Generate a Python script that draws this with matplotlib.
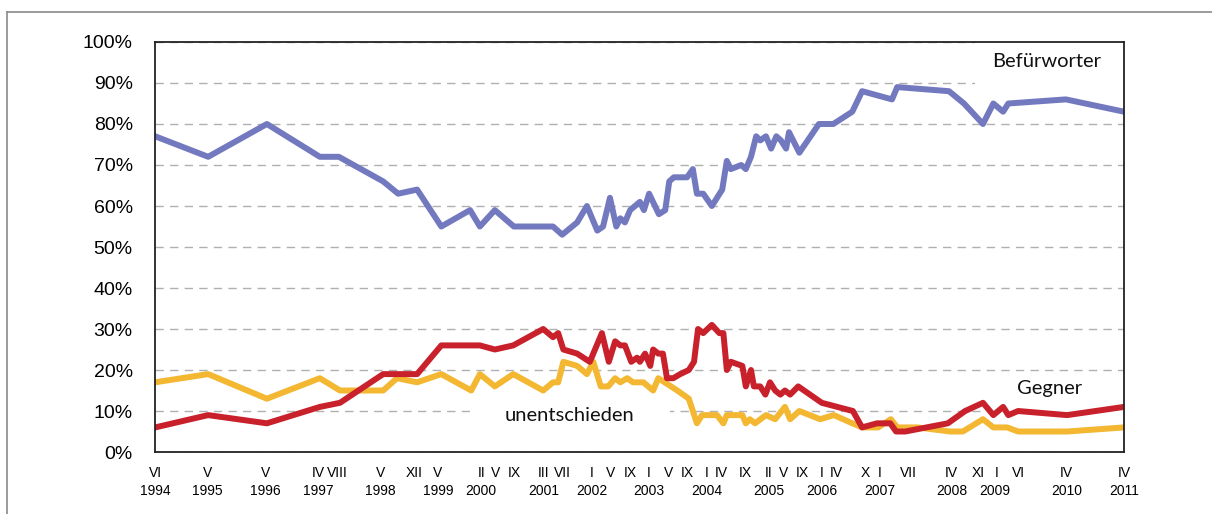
import numpy as np
import matplotlib
matplotlib.use("Agg")
import matplotlib.pyplot as plt
from matplotlib.patches import Rectangle
from matplotlib.lines import Line2D
from matplotlib.transforms import blended_transform_factory, ScaledTranslation

plt.rcParams['font.family'] = ['Liberation Sans', 'DejaVu Sans']

# survey dates as decimal years, values in percent
befuerworter_dates = [1994.42, 1995.34, 1996.36, 1997.28, 1997.61, 1998.38, 1998.64, 1998.97,
                      1999.39, 1999.89, 2000.06, 2000.32, 2000.65, 2001.33, 2001.49, 2001.75,
                      2001.92, 2002.10, 2002.20, 2002.32, 2002.43, 2002.50, 2002.58, 2002.67,
                      2002.84, 2002.91, 2003.00, 2003.17, 2003.28, 2003.35, 2003.43, 2003.66,
                      2003.76, 2003.83, 2003.94, 2004.09, 2004.27, 2004.35, 2004.42, 2004.60,
                      2004.68, 2004.77, 2004.86, 2004.93, 2005.03, 2005.12, 2005.21, 2005.29,
                      2005.38, 2005.43, 2005.61, 2005.95, 2006.20, 2006.53, 2006.70, 2007.22,
                      2007.31, 2008.21, 2008.47, 2008.80, 2008.98, 2009.15, 2009.24, 2010.24,
                      2011.25]
befuerworter = [77, 72, 80, 72, 72, 66, 63, 64,
                55, 59, 55, 59, 55, 55, 53, 56,
                60, 54, 55, 62, 55, 57, 56, 59,
                61, 59, 63, 58, 59, 66, 67, 67,
                69, 63, 63, 60, 64, 71, 69, 70,
                69, 72, 77, 76, 77, 74, 77, 76,
                74, 78, 73, 80, 80, 83, 88, 86,
                89, 88, 85, 80, 85, 83, 85, 86,
                83]

gegner_dates = [1994.42, 1995.34, 1996.36, 1997.28, 1997.63, 1998.38, 1998.97, 1999.39,
                2000.06, 2000.32, 2000.64, 2001.16, 2001.33, 2001.42, 2001.51, 2001.75,
                2001.97, 2002.18, 2002.30, 2002.41, 2002.50, 2002.58, 2002.69, 2002.79,
                2002.84, 2002.93, 2003.02, 2003.07, 2003.16, 2003.24, 2003.31, 2003.42,
                2003.54, 2003.69, 2003.78, 2003.85, 2003.94, 2004.09, 2004.22, 2004.29,
                2004.35, 2004.42, 2004.62, 2004.68, 2004.77, 2004.82, 2004.93, 2005.02,
                2005.10, 2005.19, 2005.28, 2005.36, 2005.45, 2005.59, 2006.00, 2006.27,
                2006.54, 2006.70, 2006.96, 2007.19, 2007.29, 2007.45, 2008.19, 2008.49,
                2008.80, 2008.98, 2009.15, 2009.24, 2009.41, 2010.26, 2011.25]
gegner = [6, 9, 7, 11, 12, 19, 19, 26,
          26, 25, 26, 30, 28, 29, 25, 24,
          22, 29, 22, 27, 26, 26, 22, 23,
          22, 24, 21, 25, 24, 24, 18, 18,
          19, 20, 22, 30, 29, 31, 29, 29,
          20, 22, 21, 16, 20, 16, 16, 14,
          17, 15, 14, 15, 14, 16, 12, 11,
          10, 6, 7, 7, 5, 5, 7, 10,
          12, 9, 11, 9, 10, 9, 11]

unentschieden_dates = [1994.42, 1995.34, 1996.36, 1997.28, 1997.63, 1998.38, 1998.62, 1998.97,
                       1999.39, 1999.91, 2000.06, 2000.32, 2000.64, 2001.16, 2001.33, 2001.42,
                       2001.51, 2001.75, 2001.92, 2002.03, 2002.16, 2002.29, 2002.41, 2002.50,
                       2002.62, 2002.72, 2002.90, 2003.07, 2003.16, 2003.49, 2003.69, 2003.83,
                       2003.92, 2004.18, 2004.29, 2004.35, 2004.62, 2004.68, 2004.75, 2004.84,
                       2005.03, 2005.19, 2005.36, 2005.45, 2005.61, 2005.97, 2006.21, 2006.53,
                       2006.70, 2006.98, 2007.20, 2007.31, 2007.66, 2008.23, 2008.45, 2008.80,
                       2008.98, 2009.22, 2009.41, 2010.26, 2011.25]
unentschieden = [17, 19, 13, 18, 15, 15, 18, 17,
                 19, 15, 19, 16, 19, 15, 17, 17,
                 22, 21, 19, 22, 16, 16, 18, 17,
                 18, 17, 17, 15, 18, 15, 13, 7,
                 9, 9, 7, 9, 9, 7, 8, 7,
                 9, 8, 11, 8, 10, 8, 9, 7,
                 6, 6, 8, 6, 6, 5, 5, 8,
                 6, 6, 5, 5, 6]

# x axis labels: survey month (roman) and year
tick_years = [1994, 1995, 1996, 1997, 1997, 1998, 1998, 1999, 2000, 2000, 2000, 2001, 2001,
              2002, 2002, 2002, 2003, 2003, 2003, 2004, 2004, 2004, 2005, 2005, 2005,
              2006, 2006, 2006, 2007, 2007, 2008, 2008, 2009, 2009, 2010, 2011]
tick_months = [6, 5, 5, 4, 8, 5, 12, 5, 2, 5, 9, 3, 7,
               1, 5, 9, 1, 5, 9, 1, 4, 9, 2, 5, 9,
               1, 4, 10, 1, 7, 4, 11, 1, 6, 4, 4]
ROMAN = ["I", "II", "III", "IV", "V", "VI", "VII", "VIII", "IX", "X", "XI", "XII"]

# small horizontal nudges (points) for crowded month labels, like in the original
label_nudge = {(2008, 11): -4.5, (2009, 1): 1.5}

BLUE = "#7379BE"
RED = "#C9212B"
YELLOW = "#F3B731"


def DrawDateLabels(fig, ax):
    trans = blended_transform_factory(ax.transData, ax.transAxes)
    lastYear = None
    for y, m in zip(tick_years, tick_months):
        x = y + (m - 1) / 12
        dx = label_nudge.get((y, m), 0)
        t = trans + ScaledTranslation(dx / 72, 0, fig.dpi_scale_trans)
        ax.text(x, -0.051, ROMAN[m - 1], transform=t, ha="center", va="center",
                fontsize=10, clip_on=False)
        if y != lastYear:
            ax.text(x, -0.095, str(y), transform=trans, ha="center", va="center",
                    fontsize=10, clip_on=False)
        lastYear = y


def main():
    fig = plt.figure(figsize=(12.12, 5.14), dpi=100)
    ax = fig.add_axes([0.1279, 0.1206, 0.7995, 0.7977])

    # outer frame (only top and left edge visible)
    fig.add_artist(Line2D([0.0058, 1.0], [0.9767, 0.9767], color="#8a8a8a", lw=1.2))
    fig.add_artist(Line2D([0.0058, 0.0058], [0.0, 0.9767], color="#8a8a8a", lw=1.2))

    ax.plot(befuerworter_dates, befuerworter, color=BLUE, lw=4.3, solid_joinstyle="round", zorder=3)
    ax.plot(unentschieden_dates, unentschieden, color=YELLOW, lw=4.3, solid_joinstyle="round", zorder=3)
    ax.plot(gegner_dates, gegner, color=RED, lw=4.3, solid_joinstyle="round", zorder=3)

    ax.set_xlim(1994 + 5 / 12, 2011 + 3 / 12)
    ax.set_ylim(0, 100)

    ax.set_yticks(np.arange(0, 101, 10))
    ax.set_yticklabels([f"{v}%" for v in range(0, 101, 10)])
    ax.tick_params(axis="y", length=0, pad=16, labelsize=14)

    ax.set_xticks([])
    DrawDateLabels(fig, ax)

    ax.set_axisbelow(True)
    ax.yaxis.grid(True, color="#b0b0b0", lw=1.0, linestyle=(0, (6, 4.5)))

    for sp in ax.spines.values():
        sp.set_color("#222222")
        sp.set_linewidth(1.3)
        sp.set_zorder(5)

    # white backgrounds of the text boxes (hide gridlines)
    for x0, y0, w, h in [(0.846, 0.888, 0.154, 0.112),
                         (0.325, 0.066, 0.206, 0.061),
                         (0.857, 0.078, 0.143, 0.098)]:
        ax.add_patch(Rectangle((x0, y0), w, h, transform=ax.transAxes,
                               facecolor="white", edgecolor="none", zorder=1))

    lblFont = dict(family=["Lato", "DejaVu Sans"], fontsize=14.5, color="#111111", zorder=4)
    ax.text(2009.91, 95.2, "Befürworter", ha="center", va="center", **lblFont)
    ax.text(2009.96, 15.6, "Gegner", ha="center", va="center", **lblFont)
    ax.text(2001.61, 9.0, "unentschieden", ha="center", va="center", **lblFont)

    fig.savefig("out.png", dpi=100)


main()
